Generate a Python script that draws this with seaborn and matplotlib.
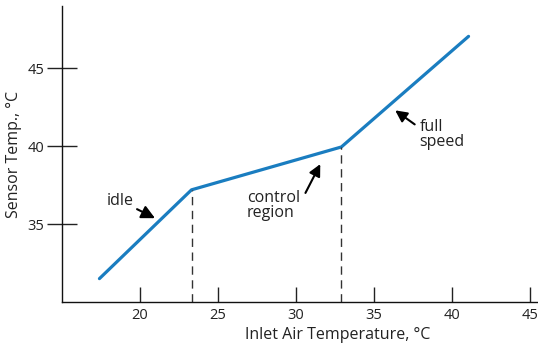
import matplotlib
matplotlib.use("Agg")
import matplotlib.pyplot as plt
import seaborn as sns
import pandas as pd

# break points of the sensor curve
inlet_temp = [17.4, 23.3, 32.9, 41.05]
sensor_temp = [31.5, 37.2, 39.95, 47.05]
x_ticks = [20, 25, 30, 35, 40, 45]
y_ticks = [35, 40, 45]

sns.set_style("ticks")
plt.rcParams["font.family"] = ["Open Sans", "DejaVu Sans"]

df = pd.DataFrame({"inlet": inlet_temp, "sensor": sensor_temp})

fig = plt.figure(figsize=(5.38, 3.44), dpi=100)
ax = fig.add_axes([0.1152, 0.1221, 0.8848, 0.8605])
sns.lineplot(data=df, x="inlet", y="sensor", ax=ax, color="#1a7dc0", linewidth=2.3)

# dashed drop lines from the knees
for xk, yk in zip(inlet_temp[1:3], sensor_temp[1:3]):
    ax.plot([xk, xk], [30, yk], color="#333333", linestyle=(0, (6, 4)), linewidth=1.0)

ax.set_xlim(15, 45.5)
ax.set_ylim(30, 49)
ax.set_xticks(x_ticks)
ax.set_yticks(y_ticks)
ax.tick_params(axis="x", direction="in", length=11, width=1, colors="#222222", labelsize=10.5, pad=4)
ax.tick_params(axis="y", direction="inout", length=21, width=1, colors="#222222", labelsize=10.5, pad=2)
for s in ["top", "right"]:
    ax.spines[s].set_visible(False)
for s in ["left", "bottom"]:
    ax.spines[s].set_color("#111111")
    ax.spines[s].set_linewidth(1.0)

ax.set_xlabel("Inlet Air Temperature, °C", fontsize=11.5, color="#222222")
ax.xaxis.set_label_coords(0.58, -0.085)
ax.set_ylabel("Sensor Temp., °C", fontsize=11.5, color="#222222")
ax.yaxis.set_label_coords(-0.085, 0.5)

arrow = dict(arrowstyle="-|>,head_length=0.7,head_width=0.35", color="black", lw=1.5, shrinkA=0, shrinkB=0)
ax.annotate("idle", xy=(20.96, 35.38), xytext=(19.6, 36.5), ha="right", va="center",
            fontsize=11.5, color="#222222", arrowprops=arrow)
ax.annotate("", xy=(31.55, 38.85), xytext=(30.6, 37.0), arrowprops=arrow)
ax.text(26.86, 36.2, "control\nregion", ha="left", va="center", fontsize=11.5,
        color="#222222", linespacing=0.95)
ax.annotate("", xy=(36.35, 42.3), xytext=(37.6, 41.4), arrowprops=arrow)
ax.text(37.9, 40.75, "full\nspeed", ha="left", va="center", fontsize=11.5,
        color="#222222", linespacing=0.95)

fig.savefig("out.png", dpi=100)
